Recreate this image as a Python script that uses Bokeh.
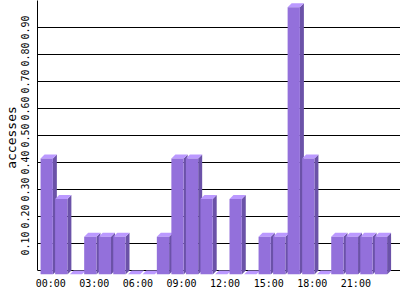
from bokeh.plotting import figure
from bokeh.models import ColumnDataSource, Range1d, FixedTicker
from bokeh.embed import file_html
from bokeh.resources import INLINE

# ---- data ----
hours = list(range(24))
accesses = [0.43, 0.28, 0.0, 0.14, 0.14, 0.14, 0.0, 0.0, 0.14, 0.43, 0.43, 0.28,
            0.0, 0.28, 0.0, 0.14, 0.14, 0.99, 0.43, 0.0, 0.14, 0.14, 0.14, 0.14]
x_tick_hours = [0, 3, 6, 9, 12, 15, 18, 21]
x_tick_labels = ["00:00", "03:00", "06:00", "09:00", "12:00", "15:00", "18:00", "21:00"]
y_tick_values = [0.1, 0.2, 0.3, 0.4, 0.5, 0.6, 0.7, 0.8, 0.9]
y_tick_labels = ["0.10", "0.20", "0.30", "0.40", "0.50", "0.60", "0.70", "0.80", "0.90"]
grid_values = [0.0, 0.1, 0.2, 0.3, 0.4, 0.5, 0.6, 0.7, 0.8, 0.9, 1.0]

# ---- style ----
BAR_W = 0.845
DX = 0.2745
DY = 0.0148
FRONT = "#9370db"
TOP = "#bb99ff"
SIDE = "#6b52a8"
FONT = "DejaVu Sans Mono"

p = figure(width=400, height=300, output_backend="svg", toolbar_location=None,
           x_range=Range1d(-0.909, 24.07), y_range=Range1d(-DY, 1.0),
           min_border_left=36, min_border_right=0, min_border_top=0, min_border_bottom=26)
p.outline_line_color = None
p.background_fill_color = "white"
p.border_fill_color = "white"

xs, ys, cs = [], [], []
for h, v in zip(hours, accesses):
    l, r = h - BAR_W / 2, h + BAR_W / 2
    # side face
    xs.append([r - DX, r, r, r - DX]); ys.append([-DY, 0, v, v - DY]); cs.append(SIDE)
    # top face
    xs.append([l - DX, r - DX, r, l]); ys.append([v - DY, v - DY, v, v]); cs.append(TOP)
    # front face
    if v > 0:
        xs.append([l - DX, r - DX, r - DX, l - DX]); ys.append([-DY, -DY, v - DY, v - DY]); cs.append(FRONT)
src = ColumnDataSource(dict(xs=xs, ys=ys, c=cs))
p.patches("xs", "ys", source=src, fill_color="c", line_color=None)

# grid
p.xgrid.grid_line_color = None
p.ygrid.ticker = FixedTicker(ticks=grid_values)
p.ygrid.grid_line_color = "black"
p.ygrid.grid_line_width = 1

# y axis
ya = p.yaxis[0]
ya.ticker = FixedTicker(ticks=y_tick_values)
ya.major_label_overrides = {t: s for t, s in zip(y_tick_values, y_tick_labels)}
ya.major_label_orientation = "vertical"
ya.major_tick_out = 0
ya.major_tick_in = 0
ya.minor_tick_out = 0
ya.minor_tick_in = 0
ya.axis_line_color = "black"
ya.bounds = (0, 1)
ya.major_label_text_font = FONT
ya.major_label_text_font_size = "10px"
ya.major_label_text_color = "black"
ya.major_label_standoff = 8
ya.axis_label = "accesses"
ya.axis_label_text_font = FONT
ya.axis_label_text_font_size = "13px"
ya.axis_label_text_font_style = "normal"
ya.axis_label_text_color = "black"
ya.axis_label_standoff = 0

# x axis
xa = p.xaxis[0]
xa.ticker = FixedTicker(ticks=x_tick_hours)
xa.major_label_overrides = {t: s for t, s in zip(x_tick_hours, x_tick_labels)}
xa.axis_line_color = None
xa.major_tick_out = 0
xa.major_tick_in = 0
xa.minor_tick_out = 0
xa.minor_tick_in = 0
xa.major_label_text_font = FONT
xa.major_label_text_font_size = "10px"
xa.major_label_text_color = "black"
xa.major_label_standoff = 3

open("out.html", "w").write(file_html(p, INLINE))
